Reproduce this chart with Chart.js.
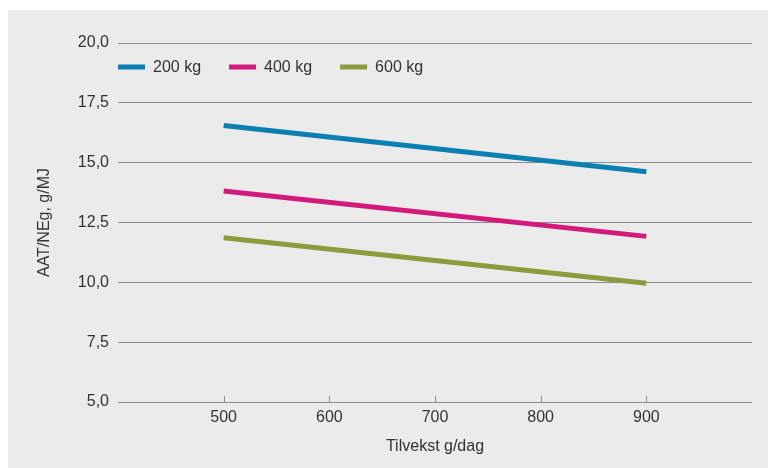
<!DOCTYPE html>
<html>
<head>
<meta charset="utf-8">
<script src="https://cdn.jsdelivr.net/npm/chart.js@4.4.1/dist/chart.umd.min.js"></script>
<style>
  html, body { margin: 0; padding: 0; background: #ffffff; }
  #panel { position: absolute; left: 8px; top: 10px; width: 760px; height: 458px; background: #ebebeb; }
  #c { position: absolute; left: 0; top: 0; }
</style>
</head>
<body>
<div id="panel"></div>
<canvas id="c" width="768" height="468"></canvas>
<script>
// ---- data ----
const tilvekst = [500, 900];
const series200 = [16.55, 14.62];
const series400 = [13.82, 11.92];
const series600 = [11.86, 9.96];
const seriesLabels = ['200 kg', '400 kg', '600 kg'];
const xTickValues = [500, 600, 700, 800, 900];
const yTickValues = [5, 7.5, 10, 12.5, 15, 17.5, 20];
const yTickLabels = ['5,0', '7,5', '10,0', '12,5', '15,0', '17,5', '20,0'];
const xTitle = 'Tilvekst g/dag';
const yTitle = 'AAT/NEg, g/MJ';

const colors = ['#0a80b2', '#d2197c', '#8a9c3c'];
const FONT = 'Liberation Sans, Arial, sans-serif';
const textColor = '#333333';
const gridColor = '#8e8e8e';

function toPoints(vals) { return vals.map((v, i) => ({ x: tilvekst[i], y: v })); }

const datasets = [series200, series400, series600].map((vals, i) => ({
  label: seriesLabels[i],
  data: toPoints(vals),
  borderColor: colors[i],
  backgroundColor: colors[i],
  borderWidth: 5,
  borderCapStyle: 'butt',
  pointRadius: 0,
  tension: 0
}));

// Legend drawn inside the chart area, in one row
const inlineLegend = {
  id: 'inlineLegend',
  afterDraw(chart) {
    const ctx = chart.ctx, area = chart.chartArea;
    const y = area.top + 24;
    let x = area.left;
    ctx.save();
    ctx.font = '16px ' + FONT;
    ctx.textBaseline = 'middle';
    ctx.textAlign = 'left';
    chart.data.datasets.forEach((ds) => {
      ctx.fillStyle = ds.borderColor;
      ctx.fillRect(x, y - 2.5, 27, 5);
      ctx.fillStyle = textColor;
      ctx.fillText(ds.label, x + 35, y + 1);
      x += 35 + ctx.measureText(ds.label).width + 28;
    });
    ctx.restore();
  }
};

const upTicks = {
  id: 'upTicks',
  afterDatasetsDraw(chart) {
    const ctx = chart.ctx, xs = chart.scales.x, y0 = chart.chartArea.bottom;
    ctx.save();
    ctx.strokeStyle = gridColor;
    ctx.lineWidth = 1;
    xTickValues.forEach(v => {
      const px = Math.round(xs.getPixelForValue(v)) + 0.5;
      ctx.beginPath(); ctx.moveTo(px, y0); ctx.lineTo(px, y0 - 6); ctx.stroke();
    });
    ctx.restore();
  }
};

new Chart(document.getElementById('c'), {
  type: 'line',
  data: { datasets },
  plugins: [inlineLegend, upTicks],
  options: {
    responsive: false,
    animation: false,
    layout: { padding: { top: 43, right: 16, left: 0, bottom: 0 } },
    plugins: {
      tooltip: { enabled: false },
      legend: { display: false }
    },
    scales: {
      x: {
        type: 'linear',
        min: 400, max: 1000,
        afterBuildTicks: (s) => { s.ticks = xTickValues.map(v => ({ value: v })); },
        afterFit: (s) => { s.height = 66; },
        grid: { display: false, drawTicks: false },
        border: { display: false },
        ticks: { color: textColor, font: { family: FONT, size: 16 }, padding: 6, maxRotation: 0, autoSkip: false,
                 callback: (v) => String(v) },
        title: { display: true, text: xTitle, color: textColor, font: { family: FONT, size: 16 }, padding: { top: 0, bottom: 12 } }
      },
      y: {
        min: 5, max: 20,
        afterBuildTicks: (s) => { s.ticks = yTickValues.map(v => ({ value: v })); },
        afterFit: (s) => { s.width = 118; },
        grid: { color: gridColor, lineWidth: 1, drawTicks: false },
        border: { display: false },
        ticks: { color: textColor, font: { family: FONT, size: 16 }, padding: 9, autoSkip: false,
                 callback: (v) => { const i = yTickValues.indexOf(v); return i >= 0 ? yTickLabels[i] : ''; } },
        title: { display: true, text: yTitle, color: textColor, font: { family: FONT, size: 16 }, padding: { top: 35, bottom: 0 } }
      }
    }
  }
});
</script>
</body>
</html>
